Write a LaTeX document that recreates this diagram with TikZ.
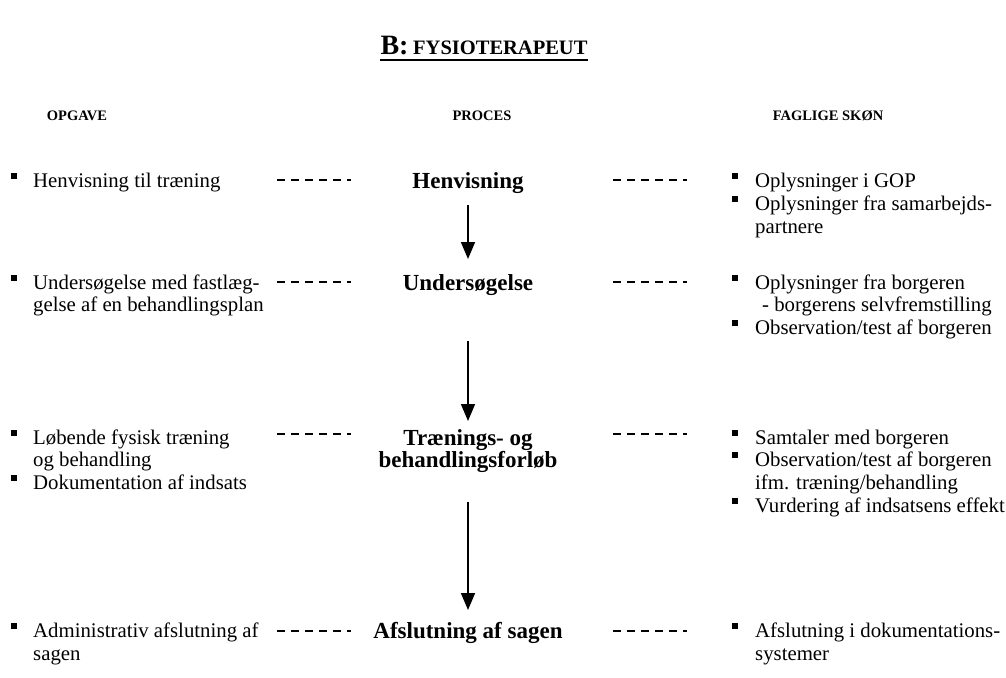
\documentclass[tikz,border=0pt]{standalone}
\usepackage{fontspec}
\setmainfont{Liberation Serif}
\usetikzlibrary{arrows.meta}
\tikzset{
  body/.style={anchor=base west, inner sep=0pt, font=\fontsize{20.8}{24}\selectfont},
  stage/.style={anchor=base, inner sep=0pt, font=\fontsize{23}{26}\selectfont\bfseries},
  colhead/.style={anchor=base, inner sep=0pt, font=\fontsize{14.5}{17}\selectfont\bfseries},
  bul/.style={fill=black, draw=none, inner sep=0pt, minimum size=5.8pt},
  link/.style={line width=2pt, dash pattern=on 8pt off 6pt},
  flow/.style={line width=1.7pt, -{Triangle[width=14pt,length=17pt]}},
}
\begin{document}
\begin{tikzpicture}[x=1pt,y=-1pt]
\useasboundingbox (0,0) rectangle (1006,677);

% title
\node[anchor=base, inner sep=0pt] (title) at (484,55)
  {\fontsize{28}{30}\selectfont\bfseries B:\,\fontsize{20.5}{24}\selectfont FYSIOTERAPEUT};
\draw[line width=2pt] ([yshift=-5pt]title.base west) -- ([yshift=-5pt]title.base east);

% column heads
\node[colhead] (hOpg) at (77,120) {OPGAVE};
\node[colhead] (hPro) at (482,120) {PROCES};
\node[colhead] (hFag) at (828,120) {FAGLIGE SKØN};

% process stages
\node[stage] (hen) at (468,188) {Henvisning};
\node[stage] (und) at (468,290) {Undersøgelse};
\node[stage] (trA) at (468,445) {Trænings- og};
\node[stage] (trB) at (468,467) {behandlingsforløb};
\node[stage] (afs) at (468,638) {Afslutning af sagen};

% arrows run from just below one stage to just above the next
\draw[flow] ([yshift=-17pt]hen.base) -- ([yshift=31pt]und.base);
\draw[flow] ([yshift=-51pt]und.base) -- ([yshift=24pt]trA.base);
\draw[flow] ([yshift=-35pt]trB.base) -- ([yshift=28pt]afs.base);

% dashed links between columns
\foreach \r/\y in {1/180,2/282,3/434,4/631}{
  \coordinate (lA\r) at (277,\y); \coordinate (lB\r) at (351,\y);
  \coordinate (rA\r) at (613,\y); \coordinate (rB\r) at (687,\y);
  \draw[link] (lA\r) -- (lB\r);
  \draw[link] (rA\r) -- (rB\r);
}

% task column
\node[bul] (b11) at (14,176) {};
\node[body] (t11) at (33,187) {Henvisning til træning};
\node[bul] (b21) at (14,278) {};
\node[body] (t21) at (33,289) {Undersøgelse med fastlæg-};
\node[body] (t22) at (33,311) {gelse af en behandlingsplan};
\node[bul] (b31) at (14,433) {};
\node[body] (t31) at (33,444) {Løbende fysisk træning};
\node[body] (t32) at (33,466) {og behandling};
\node[bul] (b33) at (14,478) {};
\node[body] (t33) at (33,489) {Dokumentation af indsats};
\node[bul] (b41) at (14,626) {};
\node[body] (t41) at (33,637) {Administrativ afslutning af};
\node[body] (t42) at (33,660) {sagen};

% professional judgement column
\node[bul] (s11) at (735,176) {};
\node[body] (u11) at (755,187) {Oplysninger i GOP};
\node[bul] (s12) at (735,199) {};
\node[body] (u12) at (755,210) {Oplysninger fra samarbejds-};
\node[body] (u13) at (755,233) {partnere};
\node[bul] (s21) at (735,278) {};
\node[body] (u21) at (755,289) {Oplysninger fra borgeren};
\node[body] (u22) at (762,311) {- borgerens selvfremstilling};
\node[bul] (s23) at (735,323) {};
\node[body] (u23) at (755,334) {Observation/test af borgeren};
\node[bul] (s31) at (735,433) {};
\node[body] (u31) at (755,444) {Samtaler med borgeren};
\node[bul] (s32) at (735,455) {};
\node[body] (u32) at (755,466) {Observation/test af borgeren};
\node[body] (u33) at (755,489) {ifm. træning/behandling};
\node[bul] (s34) at (735,501) {};
\node[body] (u34) at (755,512) {Vurdering af indsatsens effekt};
\node[bul] (s41) at (735,626) {};
\node[body] (u41) at (755,637) {Afslutning i dokumentations-};
\node[body] (u42) at (755,660) {systemer};
\end{tikzpicture}
\end{document}
